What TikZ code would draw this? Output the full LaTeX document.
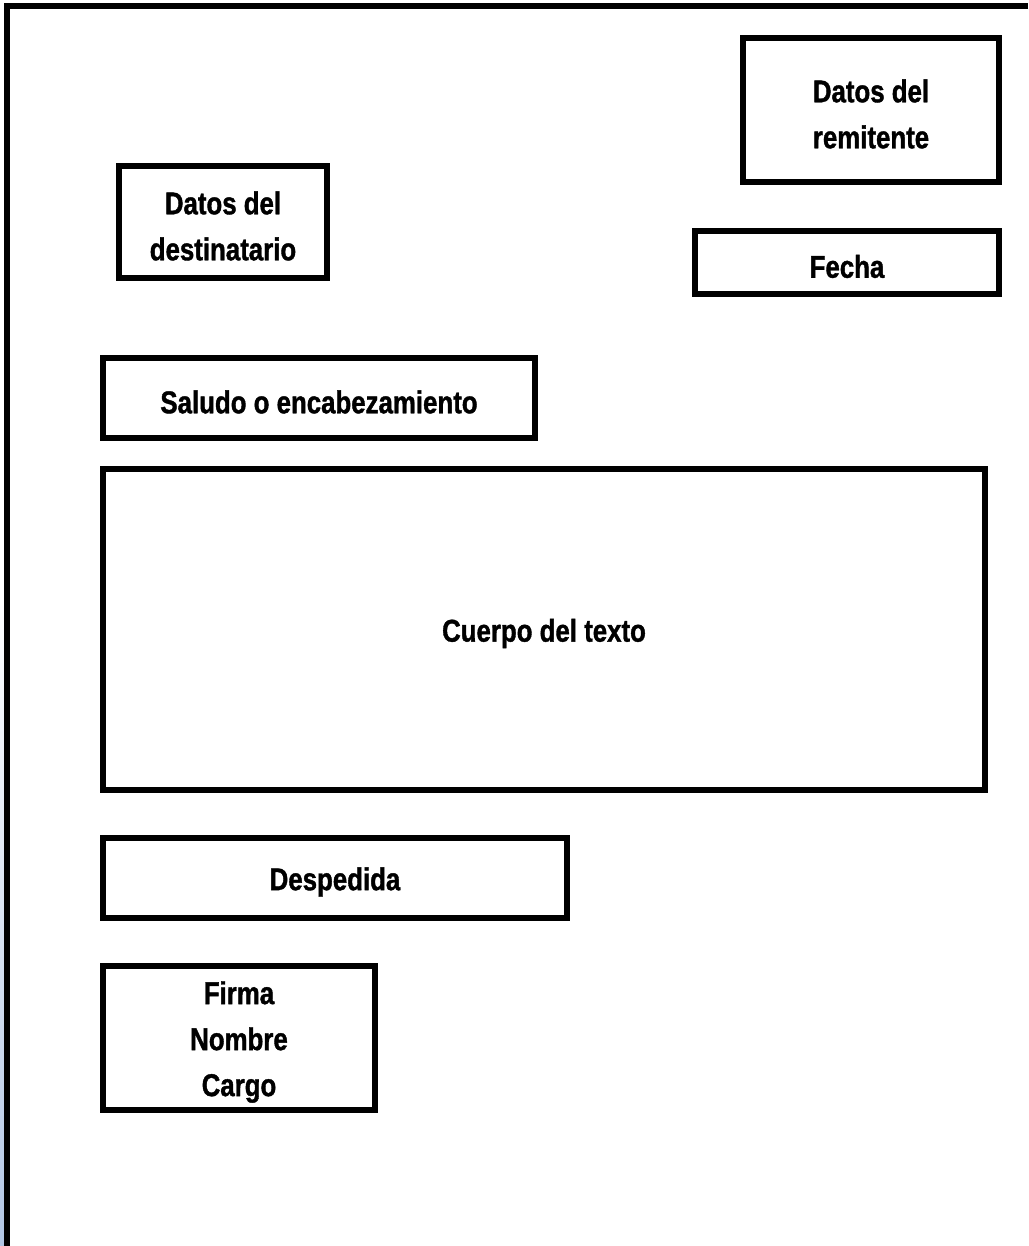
\documentclass[tikz,border=0pt]{standalone}
\usepackage{fontspec}
\setmainfont[FakeStretch=0.82,FakeBold=1.2]{Liberation Sans}
\begin{document}
\begin{tikzpicture}[x=1pt,y=-1pt,
  part/.style={draw=black, line width=6pt, rectangle, inner sep=0pt},
  parttext/.style={inner sep=0pt, align=center, yshift=-4pt,
    font=\bfseries\fontsize{31.5}{46}\selectfont},
  frameline/.style={line width=6pt, line join=miter}]
\useasboundingbox (0,0) rectangle (1028,1246);
\fill[white] (0,0) rectangle (1028,1246);
\shade[top color=white, bottom color={rgb,255:red,178;green,198;blue,228}] (0,600) rectangle (4,1246);
\draw[frameline] (1028,6) -- (6.5,6) -- (6.5,1246);
\node[part, minimum width=256pt, minimum height=144pt,
  label={[parttext]center:Datos del\\remitente}] (rem) at (871,110) {};
\node[part, minimum width=208pt, minimum height=112pt,
  label={[parttext]center:Datos del\\destinatario}] (dest) at (223,222) {};
\node[part, minimum width=304pt, minimum height=63pt,
  label={[parttext]center:Fecha}] (fecha) at (847,262.5) {};
\node[part, minimum width=432pt, minimum height=80pt,
  label={[parttext]center:Saludo o encabezamiento}] (saludo) at (319,398) {};
\node[part, minimum width=882pt, minimum height=321pt,
  label={[parttext]center:Cuerpo del texto}] (cuerpo) at (544,629.5) {};
\node[part, minimum width=464pt, minimum height=80pt,
  label={[parttext]center:Despedida}] (desp) at (335,878) {};
\node[part, minimum width=272pt, minimum height=144pt,
  label={[parttext]center:Firma\\Nombre\\Cargo}] (firma) at (239,1038) {};
\end{tikzpicture}
\end{document}
